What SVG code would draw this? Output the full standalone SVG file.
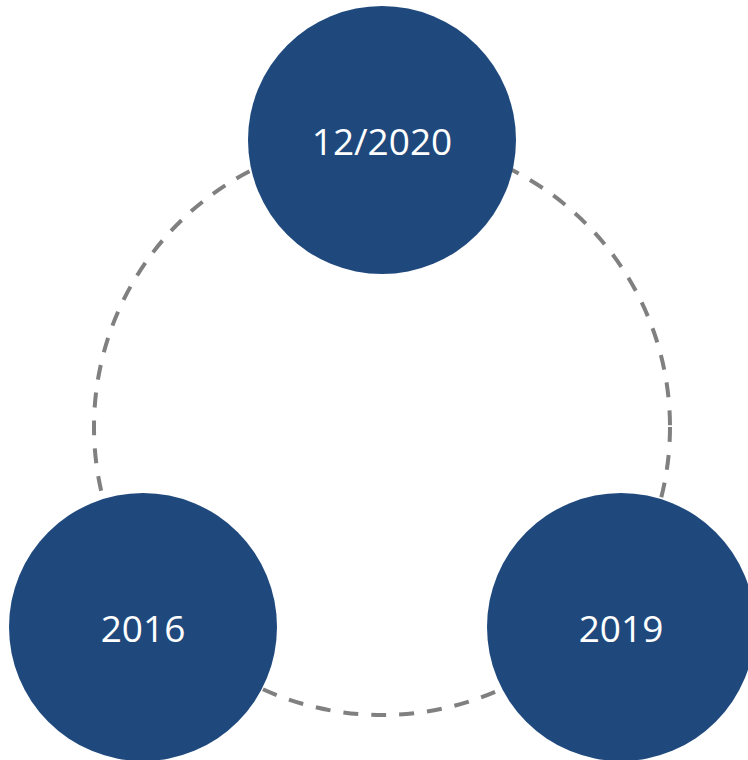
<svg xmlns="http://www.w3.org/2000/svg" width="748" height="760" viewBox="0 0 748 760">
<style>
.node{fill:#1F497D}
.lbl{fill:#fff;font-family:"Open Sans","Noto Sans",sans-serif;font-size:37px;text-anchor:middle}
.ring{fill:none;stroke:#808080;stroke-width:4;stroke-dasharray:15 13}
</style>
<rect width="748" height="760" fill="#fff"/>
<g id="connectors">
<circle class="ring" cx="382" cy="427" r="288"/>
</g>
<g id="node-2020">
<circle class="node" cx="382" cy="140" r="134"/>
<text class="lbl" x="382" y="155">12/2020</text>
</g>
<g id="node-2016">
<circle class="node" cx="143" cy="627" r="134"/>
<text class="lbl" x="143" y="642">2016</text>
</g>
<g id="node-2019">
<circle class="node" cx="621" cy="627" r="134"/>
<text class="lbl" x="621" y="642">2019</text>
</g>
</svg>
